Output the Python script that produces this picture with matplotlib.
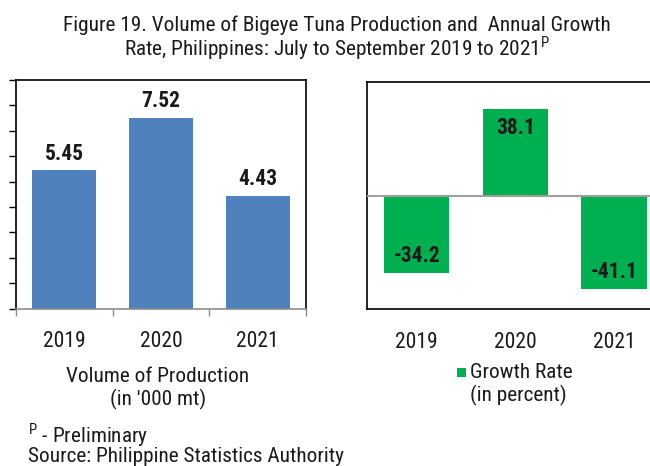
import matplotlib
matplotlib.use("Agg")
import matplotlib.pyplot as plt

years = ["2019", "2020", "2021"]
volume = [5.45, 7.52, 4.43]
growth = [-34.2, 38.1, -41.1]
volume_labels = ["5.45", "7.52", "4.43"]
growth_labels = ["-34.2", "38.1", "-41.1"]

plt.rcParams['font.family'] = ["Roboto Condensed", "DejaVu Sans"]

W, H = 650, 466
fig = plt.figure(figsize=(W / 100, H / 100), dpi=100)

def px_axes(left, top, right, bottom):
    return fig.add_axes([left / W, 1 - bottom / H, (right - left) / W, (bottom - top) / H])

blue = "#4F81BD"
green = "#00B050"
x = range(len(years))
TXT = "#1a1a1a"

# Left chart
ax1 = px_axes(16, 80, 306, 308.5)
ax1.bar(x, volume, width=0.66, color=blue, zorder=2)
ax1.set_xlim(-0.5, 2.5)
ax1.set_ylim(0, 9)
ax1.set_yticks(range(0, 10))
ax1.set_yticklabels([])
ax1.set_xticks([-0.5, 0.5, 1.5, 2.5])
ax1.set_xticklabels([])
ax1.tick_params(axis='y', direction='out', length=5, width=1, color='black')
ax1.tick_params(axis='x', direction='out', length=5, width=1, color='#8c8c8c')
for s in ['left', 'top', 'right']:
    ax1.spines[s].set_color('black')
    ax1.spines[s].set_linewidth(1.2)
ax1.spines['bottom'].set_color('#8c8c8c')
ax1.spines['bottom'].set_linewidth(1.2)
for i, (v, lab) in enumerate(zip(volume, volume_labels)):
    ax1.annotate(lab, (i, v), xytext=(0, 4), textcoords='offset points',
                 ha='center', va='bottom', fontsize=15.5, fontweight='bold', color=TXT)
for i, y in enumerate(years):
    ax1.annotate(y, (i, 0), xytext=(0, -24), textcoords='offset points',
                 ha='center', va='center', fontsize=15.5, color=TXT)

# Right chart
ax2 = px_axes(367.3, 82, 663.3, 309)
ax2.bar(x, growth, width=0.66, color=green, zorder=2)
ax2.axhline(0, color='#a0a0a0', lw=1.5, zorder=3)
ax2.set_xlim(-0.5, 2.5)
ax2.set_ylim(-50, 50)
ax2.set_xticks([])
ax2.set_yticks([])
for s in ['left', 'top', 'bottom', 'right']:
    ax2.spines[s].set_color('black')
    ax2.spines[s].set_linewidth(1.2)
for i, (v, lab) in enumerate(zip(growth, growth_labels)):
    off = -14 if v > 0 else 12
    ax2.annotate(lab, (i, v), xytext=(0, off), textcoords='offset points',
                 ha='center', va='center', fontsize=15.5, fontweight='bold', color=TXT)
for i, y in enumerate(years):
    ax2.annotate(y, (i, -50), xytext=(0, -24), textcoords='offset points',
                 ha='center', va='center', fontsize=15.5, color=TXT)

# Titles and notes
fig.text(337 / W, 1 - 25 / H, "Figure 19. Volume of Bigeye Tuna Production and  Annual Growth",
         ha='center', va='center', fontsize=15.3, color=TXT)
fig.text(337 / W, 1 - 48 / H, "Rate, Philippines: July to September 2019 to 2021$^{\\mathregular{P}}$",
         ha='center', va='center', fontsize=15.3, color=TXT)

fig.text(158 / W, 1 - 376 / H, "Volume of Production", ha='center', va='center', fontsize=15.3, color=TXT)
fig.text(158 / W, 1 - 399 / H, "(in '000 mt)", ha='center', va='center', fontsize=15.3, color=TXT)

fig.patches.append(plt.Rectangle((457 / W, 1 - 377 / H), 9 / W, 9 / H, transform=fig.transFigure,
                                 facecolor=green, edgecolor='none'))
fig.text(470 / W, 1 - 372 / H, "Growth Rate", ha='left', va='center', fontsize=15.3, color=TXT)
fig.text(470 / W, 1 - 395 / H, "(in percent)", ha='left', va='center', fontsize=15.3, color=TXT)

fig.text(28 / W, 1 - 435 / H, "$^{\\mathregular{P}}$ - Preliminary", ha='left', va='center', fontsize=15.3, color=TXT)
fig.text(28 / W, 1 - 457 / H, "Source: Philippine Statistics Authority", ha='left', va='center', fontsize=15.3, color=TXT)

fig.savefig("out.png", dpi=100)
